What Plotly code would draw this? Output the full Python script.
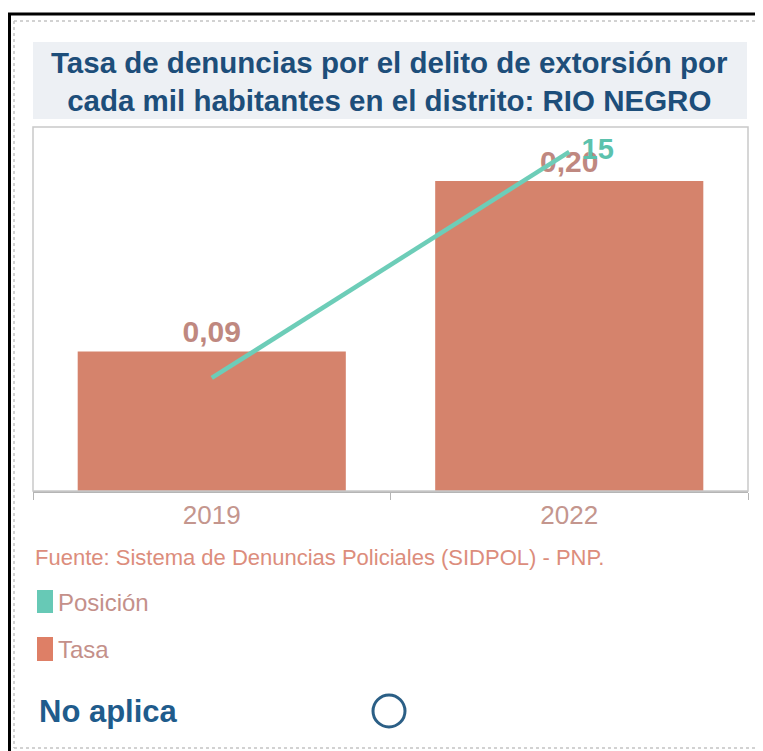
import plotly.graph_objects as go

# ---- data ----
years = ["2019", "2022"]
tasa = [0.09, 0.20]
posicion = [5, 15]
pos_labels = ["", "15"]

title_text = "Tasa de denuncias por el delito de extorsión por<br>cada mil habitantes en el distrito: RIO NEGRO"
source_text = "Fuente: Sistema de Denuncias Policiales (SIDPOL) - PNP."
legend_names = ["Posición", "Tasa"]
status_text = "No aplica"

# ---- styling ----
W, H = 763, 751
OFF = 8  # page body margin
L, R, T, B = 33, 748, 127, 491  # plot box in screen pixels
BAR_COLOR = "#d5836c"
LINE_COLOR = "#6dcdb8"
LABEL_COLOR = "#bf8880"
TICK_COLOR = "#c4968e"
TITLE_COLOR = "#1d4e7a"
FONT = "Liberation Sans"


def px(x):
    return (x - L) / (R - L)


def py(y):
    return (B - y) / (B - T)


fig = go.Figure()
fig.add_trace(go.Bar(
    x=years, y=tasa, name=legend_names[1],
    marker=dict(color=BAR_COLOR, line=dict(width=0)),
    width=0.75,
    texttemplate="<b>%{y:.2f}</b>", textposition="outside",
    textfont=dict(color=LABEL_COLOR, size=30, family=FONT),
    cliponaxis=False, showlegend=False,
))
fig.add_trace(go.Scatter(
    x=years, y=posicion, name=legend_names[0], yaxis="y2",
    mode="lines+markers+text",
    line=dict(color=LINE_COLOR, width=4.5),
    marker=dict(size=18, color="rgba(0,0,0,0)"),
    text=["<b>" + t + "</b>" if t else "" for t in pos_labels], textposition="middle right",
    textfont=dict(color="#5cc2ad", size=29, family=FONT),
    cliponaxis=False, showlegend=False,
))

shapes = []
# outer black frame
shapes.append(dict(type="line", xref="paper", yref="paper", x0=px(9.5), x1=px(9.5), y0=py(13), y1=py(760),
                   line=dict(color="black", width=3)))
shapes.append(dict(type="line", xref="paper", yref="paper", x0=px(8), x1=px(775), y0=py(14), y1=py(14),
                   line=dict(color="black", width=3)))
# dotted inner frame
for (x0, y0, x1, y1) in [(14, 21, 14, 748), (14, 21, 775, 21), (14, 748, 775, 748)]:
    shapes.append(dict(type="line", xref="paper", yref="paper", x0=px(x0), x1=px(x1), y0=py(y0), y1=py(y1),
                       line=dict(color="#c4c4c4", width=1.5, dash="dot")))
# title background
shapes.append(dict(type="rect", xref="paper", yref="paper", x0=px(33), x1=px(747), y0=py(42), y1=py(119),
                   fillcolor="#edf0f4", line=dict(width=0), layer="below"))
# plot box
shapes.append(dict(type="rect", xref="paper", yref="paper", x0=0, x1=1, y0=0, y1=1,
                   line=dict(color="#c9c9c9", width=1.5), layer="above"))
# legend swatches
shapes.append(dict(type="rect", xref="paper", yref="paper", x0=px(37), x1=px(53), y0=py(590), y1=py(613),
                   fillcolor="#67c9b6", line=dict(width=0)))
shapes.append(dict(type="rect", xref="paper", yref="paper", x0=px(37), x1=px(53), y0=py(637), y1=py(661),
                   fillcolor="#de7f66", line=dict(width=0)))
# status circle
shapes.append(dict(type="circle", xref="paper", yref="paper", x0=px(373), x1=px(405), y0=py(695), y1=py(727),
                   line=dict(color="#2b5f86", width=3)))

annotations = [
    dict(text="<b>" + title_text + "</b>", xref="paper", yref="paper", x=px(389), y=py(81),
         xanchor="center", yanchor="middle", showarrow=False, align="center",
         font=dict(family=FONT, size=29.5, color=TITLE_COLOR)),
    dict(text=source_text, xref="paper", yref="paper", x=px(33), y=py(557),
         xanchor="left", yanchor="middle", showarrow=False,
         font=dict(family=FONT, size=22, color="#dc8d7c")),
    dict(text=legend_names[0], xref="paper", yref="paper", x=px(56), y=py(602),
         xanchor="left", yanchor="middle", showarrow=False,
         font=dict(family=FONT, size=24, color="#c4908a")),
    dict(text=legend_names[1], xref="paper", yref="paper", x=px(56), y=py(649),
         xanchor="left", yanchor="middle", showarrow=False,
         font=dict(family=FONT, size=24, color="#c4908a")),
    dict(text="<b>" + status_text + "</b>", xref="paper", yref="paper", x=px(37), y=py(711),
         xanchor="left", yanchor="middle", showarrow=False,
         font=dict(family=FONT, size=31, color="#1f5c8c")),
]

fig.update_layout(
    width=W, height=H,
    margin=dict(l=L - OFF, r=W - (R - OFF), t=T - OFF, b=H - (B - OFF), pad=0),
    paper_bgcolor="white", plot_bgcolor="white",
    separators=",.",
    showlegend=False,
    bargap=0.25,
    shapes=shapes,
    annotations=annotations,
    xaxis=dict(
        type="category", range=[-0.5, 1.5],
        showline=True, linecolor="#b5b5b5", linewidth=1.5,
        ticks="outside", tickson="boundaries", ticklen=7, tickcolor="#b5b5b5",
        tickfont=dict(family=FONT, size=26, color=TICK_COLOR),
        showgrid=False, zeroline=False, fixedrange=True,
    ),
    yaxis=dict(range=[0, 0.2348], visible=False, showgrid=False, zeroline=False),
    yaxis2=dict(range=[0, 16.1], overlaying="y", side="right", visible=False,
                showgrid=False, zeroline=False),
)

fig.write_html("out.html")
